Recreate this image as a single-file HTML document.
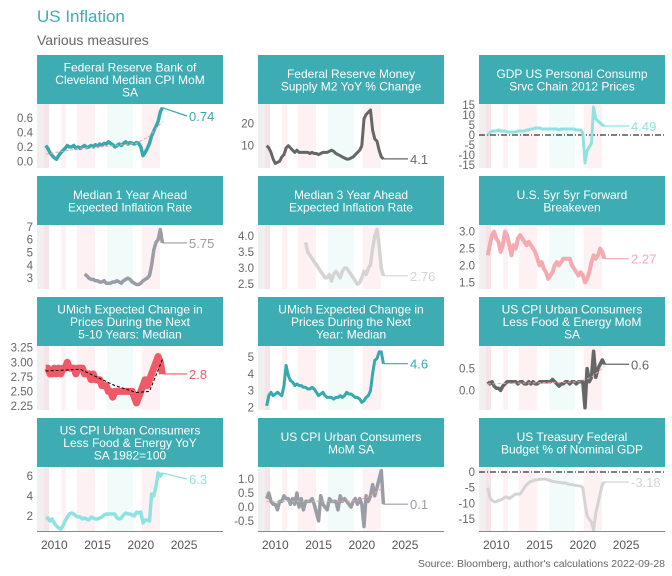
<!DOCTYPE html>
<html><head><meta charset="utf-8"><style>
html,body{margin:0;padding:0;background:#fff}
svg{display:block;font-family:"Liberation Sans",sans-serif}
</style></head><body>
<svg id="chart" width="672" height="576" viewBox="0 0 672 576" xmlns="http://www.w3.org/2000/svg">
<text x="37" y="22" font-size="17" fill="#3eadb3">US Inflation</text>
<text x="37" y="45" font-size="14" fill="#666">Various measures</text>
<text x="665" y="567" font-size="10.5" fill="#666" text-anchor="end">Source: Bloomberg, author's calculations 2022-09-28</text>
</svg>
<script>
// shared time grid: quarterly from 2009.0 to 2022.5
const years = [];
for (let i = 0; i < 55; i++) years.push(2009 + i * 0.25);
const xTicks = [2010, 2015, 2020, 2025];
const bandStarts = [2008.0, 2008.8, 2010.8, 2012.6, 2016.1, 2020.1];
const bandEnds   = [2008.8, 2009.4, 2011.35, 2014.7, 2019.1, 2022.2];
const bandKinds  = ['gray', 'pinkdark', 'pink', 'pink', 'cyan', 'pink'];

const clevelandCpi = [.22,.18,.12,.08, .05,.03,.08,.12, .15,.18,.22,.2, .2,.22,.18,.2, .18,.2,.22,.19, .2,.22,.2,.23, .21,.24,.22,.25, .24,.27,.25,.23, .2,.22,.24,.22, .25,.27,.24,.26, .25,.24,.26,.25, .2,.08,.12,.18, .25,.35,.42,.48, .55,.68,.74];
const m2Yoy = [10,9,7,4, 2,2.5,3,5, 6,9,10,9, 8,7,8,7, 7,7,7,7, 6.5,7,6.5,6.5, 6,6.5,7,7, 7,7.5,8,7.5, 6.5,6,5.5,5, 4.5,4,4,4.5, 5,6,7,8, 10,22,24,25, 26,17,13,12, 8,5,4.1];
const pceServices = [0,1,2,2, 2,2.5,2,2, 2,1.5,1.5,1.5, 1.5,1.5,2,2, 2,2,2.5,2.5, 3,3,3.5,3.5, 3.5,3,3,3, 3,3,3,3, 3,2.5,3,3, 3,3,3,3, 3,2.5,2.5,2.5, 1,-14,-8,-6, -4,14,8,7, 6,5,4.49];
const median1y = [null,null,null,null,null,null,null,null,null,null,null,null,null,null,null,null,null,null, 3.3,3.2, 3.0,2.9,2.9,2.8, 2.8,2.7,2.7,2.8, 2.6,2.6,2.6,2.7, 2.7,2.8,2.7,2.6, 2.8,2.9,3.0,2.9, 2.7,2.6,2.5,2.5, 2.6,2.8,2.9,3.0, 3.2,4.0,5.2,5.8, 6.0,6.8,5.75];
const median3y = [null,null,null,null,null,null,null,null,null,null,null,null,null,null,null,null,null,null, 3.8,3.5, 3.4,3.3,3.2,3.1, 3.0,2.9,2.8,2.7, 2.7,2.8,2.6,2.8, 2.9,2.8,2.7,2.9, 3.0,3.0,2.9,2.8, 2.7,2.6,2.5,2.55, 2.7,2.9,2.8,3.0, 3.1,3.6,4.0,4.2, 3.7,3.0,2.76];
const breakeven5y5y = [2.3,2.6,2.9,3.0, 2.8,2.7,2.4,2.6, 3.0,2.9,2.6,2.3, 2.6,2.5,2.8,2.9, 2.8,2.7,2.6,2.7, 2.6,2.5,2.4,2.2, 2.0,2.1,1.9,1.8, 1.6,1.7,1.8,2.0, 2.1,2.0,2.1,2.2, 2.2,2.2,2.2,2.0, 1.9,1.8,1.7,1.8, 1.7,1.5,1.6,1.8, 2.1,2.3,2.2,2.3, 2.5,2.4,2.2];
const umich510 = [2.9,2.9,2.8,2.8, 2.9,2.8,2.9,2.8, 2.9,2.9,3.0,2.9, 2.9,2.9,2.8,2.9, 2.9,2.9,2.8,2.8, 2.8,2.7,2.8,2.7, 2.7,2.7,2.6,2.6, 2.6,2.5,2.5,2.4, 2.5,2.5,2.5,2.5, 2.5,2.5,2.5,2.5, 2.5,2.4,2.3,2.4, 2.5,2.6,2.7,2.6, 2.7,2.8,2.9,3.0, 3.1,3.0,2.8];
const umich1y = [2.1,2.7,2.9,2.7, 2.8,2.9,2.8,2.7, 3.3,4.5,3.9,3.6, 3.5,3.3,3.4,3.3, 3.3,3.2,3.2,3.1, 3.1,3.2,3.1,2.9, 2.7,2.8,2.9,2.7, 2.6,2.6,2.6,2.5, 2.6,2.6,2.7,2.6, 2.7,2.9,2.8,2.8, 2.7,2.6,2.6,2.5, 2.3,2.4,2.6,2.7, 3.0,4.0,4.8,4.9, 5.3,5.3,4.6];
const coreMom = [.2,.15,.2,.1, .05,.05,0,.1, .15,.2,.2,.2, .2,.2,.15,.2, .2,.15,.15,.2, .15,.2,.15,.15, .2,.2,.2,.2, .2,.2,.25,.2, .15,.1,.15,.15, .2,.2,.15,.2, .2,.15,.2,.2, .2,-.4,.5,.2, .3,.9,.3,.5, .6,.7,.6];
const coreYoy = [1.8,1.8,1.5,1.7, 1.3,1.0,0.8,0.7, 1.0,1.5,1.9,2.2, 2.3,2.2,2.0,1.9, 1.9,1.7,1.8,1.7, 1.6,1.9,1.8,1.7, 1.7,1.8,1.9,2.1, 2.2,2.2,2.2,2.2, 2.2,1.8,1.7,1.8, 2.1,2.3,2.2,2.2, 2.1,2.0,2.4,2.3, 2.4,1.3,1.6,1.6, 1.5,4.2,4.0,5.0, 6.3,6.0,6.3];
const cpiMom = [.3,.5,.2,.1, .1,-.1,.2,.2, .4,.3,.3,.1, .3,.1,.5,0, .3,-.1,.2,.2, .2,.3,.1,-.2, -.5,.4,.1,0, -.1,.3,.2,.2, .2,-.1,.4,.2, .3,.2,.1,0, .2,.3,.1,.3, .1,-.7,.4,.2, .4,.8,.4,.7, 1.0,1.3,0.1];
const budgetGdp = [-5,-8,-9,-9.5, -9.5,-9,-9,-8.5, -8,-8,-8.5,-8, -7.5,-7,-7,-7, -6,-5,-4,-3.5, -3,-2.8,-2.5,-2.5, -2.3,-2.3,-2.2,-2.3, -2.5,-2.7,-3,-3.1, -3.2,-3.3,-3.4,-3.5, -3.5,-3.8,-3.9,-4.0, -4.2,-4.3,-4.4,-4.5, -5,-10,-14,-15, -16,-18.5,-13,-10, -7,-4,-3.18];

const trendYears = [2009, 2013, 2017, 2019.5, 2021, 2022.5];
const trendCleveland = [.1, .18, .22, .25, .35, .55];
const trendUmich = [2.85, 2.88, 2.6, 2.48, 2.5, 3.05];
const trendCoreMom = [.15, .17, .18, .2, .3, .55];
const trendCpiMom = [.2, .2, .2, .22, .4, .7];

const endLabels = ['0.74','4.1','4.49','5.75','2.76','2.27','2.8','4.6','0.6','6.3','0.1','-3.18'];

const panels = [
 {name:'cleveland-median-cpi', title:['Federal Reserve Bank of','Cleveland Median CPI MoM','SA'], data:clevelandCpi, lo:-0.09, hi:0.79, ticks:[0,0.2,0.4,0.6], fmt:1, color:'#36a9ad', w:3.5, trend:trendCleveland, tc:'#f4a0a8'},
 {name:'m2-money-supply', title:['Federal Reserve Money','Supply M2 YoY % Change'], data:m2Yoy, lo:0, hi:28.7, ticks:[10,20], fmt:0, color:'#666', w:3},
 {name:'pce-services', title:['GDP US Personal Consump','Srvc Chain 2012 Prices'], data:pceServices, lo:-16.5, hi:15.5, ticks:[-15,-10,-5,0,5,10,15], fmt:0, color:'#8ee3e0', w:3, zero:true},
 {name:'median-1y-expected', title:['Median 1 Year Ahead','Expected Inflation Rate'], data:median1y, lo:2.15, hi:7.15, ticks:[3,4,5,6,7], fmt:0, color:'#9a9ca6', w:3.5},
 {name:'median-3y-expected', title:['Median 3 Year Ahead','Expected Inflation Rate'], data:median3y, lo:2.35, hi:4.34, ticks:[2.5,3,3.5,4], fmt:1, color:'#d4d4d4', w:3.5},
 {name:'breakeven-5y5y', title:['U.S. 5yr 5yr Forward','Breakeven'], data:breakeven5y5y, lo:1.3, hi:3.2, ticks:[1.5,2,2.5,3], fmt:1, color:'#f4aab0', w:4},
 {name:'umich-5-10y', title:['UMich Expected Change in','Prices During the Next','5-10 Years: Median'], data:umich510, lo:2.18, hi:3.28, ticks:[2.25,2.5,2.75,3,3.25], fmt:2, color:'#f05a68', w:7, trend:trendUmich, tc:'#000'},
 {name:'umich-1y', title:['UMich Expected Change in','Prices During the Next','Year: Median'], data:umich1y, lo:1.85, hi:5.65, ticks:[2,3,4,5], fmt:0, color:'#36a9ad', w:3},
 {name:'core-cpi-mom', title:['US CPI Urban Consumers','Less Food & Energy MoM','SA'], data:coreMom, lo:-0.45, hi:1.02, ticks:[0,0.5], fmt:1, color:'#666', w:3.5, trend:trendCoreMom, tc:'#f4a0a8'},
 {name:'core-cpi-yoy', title:['US CPI Urban Consumers','Less Food & Energy YoY','SA 1982=100'], data:coreYoy, lo:0.5, hi:6.9, ticks:[2,4,6], fmt:0, color:'#8ee3e0', w:3.5},
 {name:'cpi-mom', title:['US CPI Urban Consumers','MoM SA'], data:cpiMom, lo:-0.86, hi:1.43, ticks:[-0.5,0,0.5,1], fmt:1, color:'#9a9ca6', w:3.5, trend:trendCpiMom, tc:'#f4a0a8'},
 {name:'federal-budget-gdp', title:['US Treasury Federal','Budget % of Nominal GDP'], data:budgetGdp, lo:-18.8, hi:1.6, ticks:[-15,-10,-5,0], fmt:0, color:'#d4d4d4', w:3, zero:true}
];

const NS = 'http://www.w3.org/2000/svg';
const svg = document.getElementById('chart');
const colX = [37, 258, 479], PW = 186;
const rowY = [55, 176, 297, 418], HH = 49, PH = 64;
const X0 = 2008, X1 = 2029.5;
const bandFill = {gray:'#f1efef', pinkdark:'#f5e4e8', pink:'#fdf1f3', cyan:'#f0fbfa'};
function mk(tag, attrs, parent) { const e = document.createElementNS(NS, tag); for (const k in attrs) e.setAttribute(k, attrs[k]); (parent || svg).appendChild(e); return e; }

panels.forEach((p, idx) => {
  const c = idx % 3, r = Math.floor(idx / 3);
  const left = colX[c], top = rowY[r], pTop = top + HH, pBot = pTop + PH;
  const xs = v => left + (v - X0) / (X1 - X0) * PW;
  const ys = v => pBot - (v - p.lo) / (p.hi - p.lo) * PH;
  const g = mk('g', {});
  
  
  const hdr = mk('rect', {x:left, y:top, width:PW, height:HH, fill:'#3eadb3'}, g);
  
  
  const n = p.title.length, lh = 12.5;
  p.title.forEach((t, i) => {
    const tt = mk('text', {x:left + PW/2, y:top + HH/2 - (n-1)*lh/2 + i*lh + 4.5, 'font-size':12, fill:'#fff', 'text-anchor':'middle'}, g);
    tt.textContent = t;
    
    
  });
  bandStarts.forEach((b, i) => {
    const br = mk('rect', {x:xs(b), y:pTop, width:xs(bandEnds[i]) - xs(b), height:PH, fill:bandFill[bandKinds[i]]}, g);
    
    
  });
  p.ticks.forEach(t => {
    const tl = mk('text', {x:left - 4, y:ys(t) + 4, 'font-size':11.5, fill:'#666', 'text-anchor':'end'}, g);
    tl.textContent = t.toFixed(p.fmt);
    
    
  });
  if (p.zero) {
    const z = mk('line', {x1:left, x2:left + PW, y1:ys(0), y2:ys(0), stroke:'#000', 'stroke-width':1, 'stroke-dasharray':'6 2 1 2'}, g);
    
    
  }
  let d = '', last = null;
  p.data.forEach((v, i) => {
    if (v === null) return;
    d += (d ? 'L' : 'M') + xs(years[i]).toFixed(1) + ',' + ys(v).toFixed(1);
    last = [xs(years[i]), ys(v)];
  });
  const line = mk('path', {d:d, fill:'none', stroke:p.color, 'stroke-width':p.w, 'stroke-linejoin':'round'}, g);
  
  
  if (p.trend) {
    let td = '';
    p.trend.forEach((v, i) => { td += (i ? 'L' : 'M') + xs(trendYears[i]).toFixed(1) + ',' + ys(v).toFixed(1); });
    const tr = mk('path', {d:td, fill:'none', stroke:p.tc, 'stroke-width':1, 'stroke-dasharray':'3 2'}, g);
    
    
  }
  const ly = Math.max(pTop + 12, Math.min(pBot - 4, last[1]));
  const lx = left + 152;
  const cl = mk('line', {x1:last[0], y1:last[1], x2:lx - 2, y2:ly, stroke:p.color, 'stroke-width':1.2}, g);
  
  
  const lt = mk('text', {x:lx, y:ly + 5, 'font-size':13, fill:p.color}, g);
  lt.textContent = endLabels[idx];
  
  
  if (r === 3) {
    const ax = mk('line', {x1:left, x2:left + PW, y1:pBot + 0.5, y2:pBot + 0.5, stroke:'#888', 'stroke-width':1}, g);
    
    
    xTicks.forEach(t => {
      const xt = mk('text', {x:xs(t), y:pBot + 18, 'font-size':12, fill:'#555', 'text-anchor':'middle'}, g);
      xt.textContent = t;
      
      
    });
  }
});
</script>
</body></html>
